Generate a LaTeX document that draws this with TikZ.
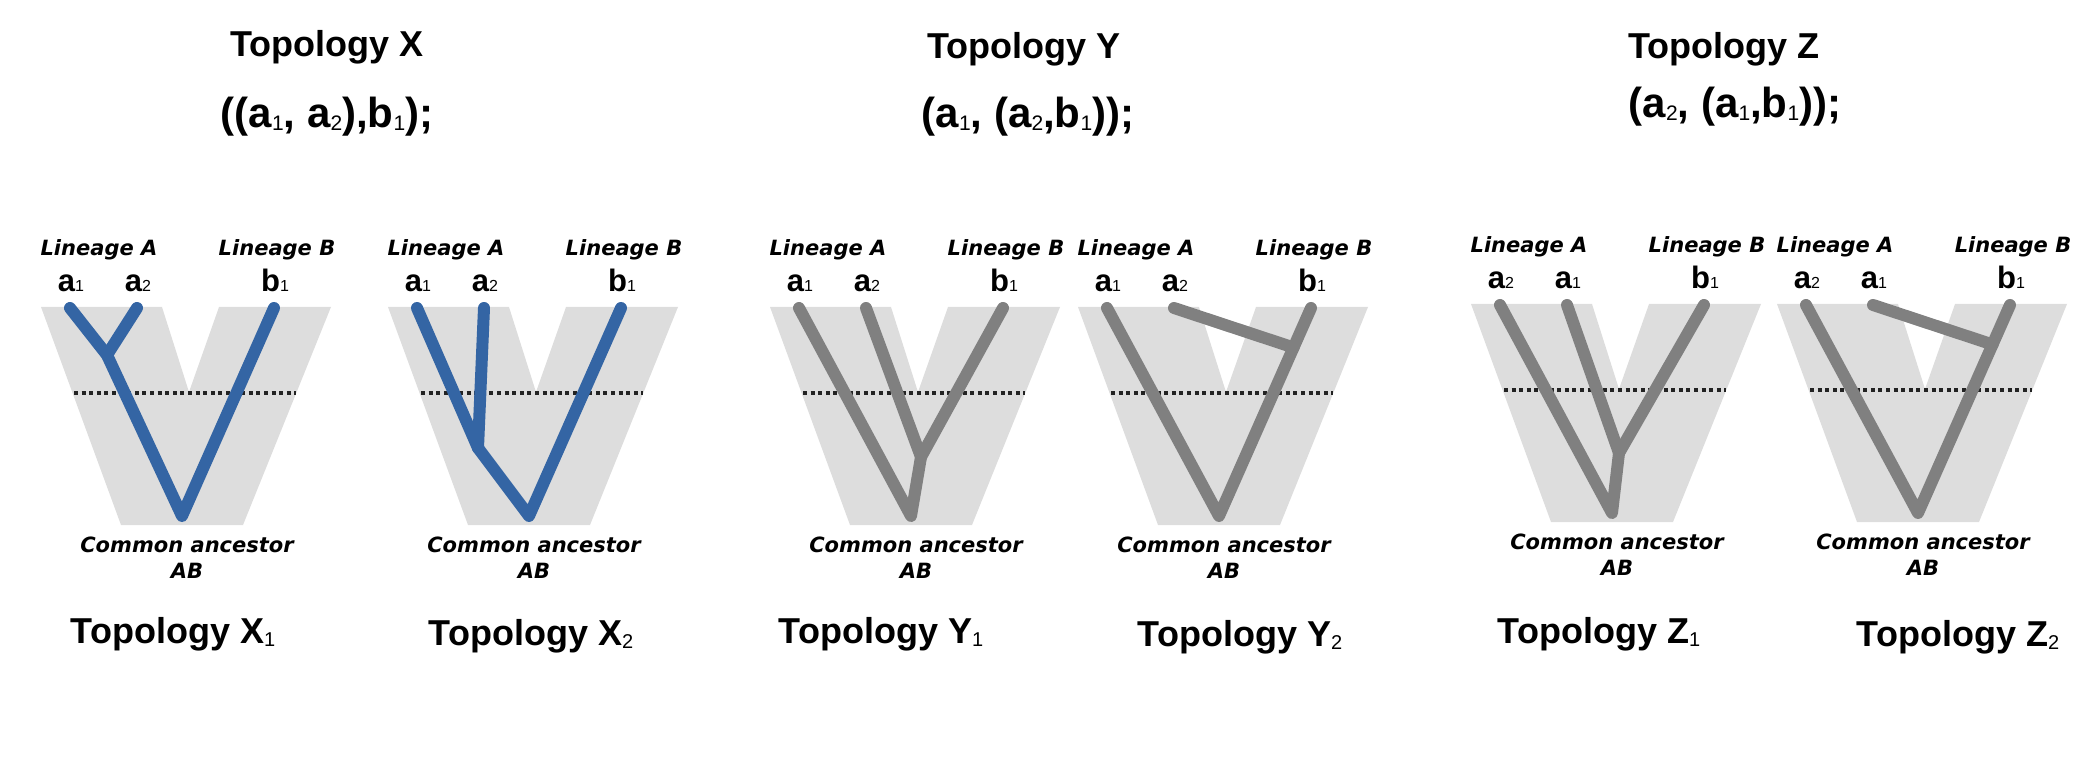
\documentclass[tikz,border=0pt]{standalone}
\usepackage{fontspec}
\setmainfont{Liberation Sans}
\newfontfamily\lblfont{DejaVu Sans}
\usetikzlibrary{calc}
\definecolor{TreeBlue}{HTML}{3465A4}
\definecolor{TreeGray}{HTML}{808080}
\definecolor{ShadeGray}{HTML}{DDDDDD}
\definecolor{DotBlack}{HTML}{222222}
\newcommand{\leafsub}[1]{{\mdseries\fontsize{8}{8}\selectfont #1}}
\newcommand{\newicksub}[1]{\raisebox{-1.5pt}{\mdseries\fontsize{10.5}{10.5}\selectfont #1}}
\newcommand{\titlesub}[1]{\raisebox{-1.5pt}{\mdseries\fontsize{10}{10}\selectfont #1}}
\tikzset{
  vshape/.style={fill=ShadeGray},
  divide/.style={DotBlack,line width=2pt,dash pattern=on 2pt off 1.8pt},
  branchX/.style={TreeBlue,line width=6pt,line cap=round,line join=round},
  branchO/.style={TreeGray,line width=6pt,line cap=round,line join=round},
  lbl/.style={anchor=base,inner sep=0pt},
  toptitle/.style={lbl,font=\bfseries\fontsize{18}{20}\selectfont},
  newick/.style={lbl,font=\bfseries\fontsize{21}{24}\selectfont},
  subtitle/.style={lbl,font=\bfseries\fontsize{18}{20}\selectfont},
  lineage/.style={lbl,font=\lblfont\bfseries\itshape\fontsize{10.5}{12}\selectfont},
  leaf/.style={lbl,font=\bfseries\fontsize{15.5}{18}\selectfont},
}

\begin{document}
\begin{tikzpicture}[x=0.5pt,y=-0.5pt]
  \useasboundingbox (0,0) rectangle (2079,775);
  % titles
  \node[toptitle] (tx) at (327,57) {Topology X};
  \node[toptitle] (ty) at (1024,59) {Topology Y};
  \node[toptitle] (tz) at (1724,59) {Topology Z};
  \node[newick] (nx) at (327,128) {((a\newicksub{1}, a\newicksub{2}),b\newicksub{1});};
  \node[newick] (ny) at (1028,128) {(a\newicksub{1}, (a\newicksub{2},b\newicksub{1}));};
  \node[newick] (nz) at (1735,118) {(a\newicksub{2}, (a\newicksub{1},b\newicksub{1}));};
  % shaded V, labels and branch ends of each panel
  \foreach \px/\py/\la/\lb/\id in {41/307/1/2/x1,388/307/1/2/x2,770/307/1/2/y1,1078/307/1/2/y2,1471/304/2/1/z1,1777/304/2/1/z2} {
    \fill[vshape] (\px,\py) -- ++(121,0) -- ++(27,85) -- ++(30,-85) -- ++(112,0) -- ++(-88,218) -- ++(-122,0) -- cycle;
    \draw[divide] (\px+33,\py+86) -- (\px+255,\py+86);
    \node[lineage] (\id-la) at (\px+58,\py-51) {Lineage A};
    \node[lineage] (\id-lb) at (\px+236,\py-51) {Lineage B};
    \node[leaf] (\id-l1) at (\px+30,\py-15) {a\leafsub{\la}};
    \node[leaf] (\id-l2) at (\px+97,\py-15) {a\leafsub{\lb}};
    \node[leaf] (\id-l3) at (\px+234,\py-15) {b\leafsub{1}};
    \node[lineage] (\id-ca) at (\px+146,\py+245) {Common ancestor};
    \node[lineage] (\id-ab) at (\px+146,\py+271) {AB};
    \coordinate (\id-t1) at (\px+29,\py+1);
    \coordinate (\id-t2) at (\px+96,\py+1);
    \coordinate (\id-t3) at (\px+233,\py+1);
    \coordinate (\id-r) at (\px+141,\py+209);
  }
  % topology X1
  \coordinate (x1-j) at (107,355);
  \draw[branchX] (x1-t1) -- (x1-j) -- (x1-r) -- (x1-t3);
  \draw[branchX] (x1-t2) -- (x1-j);
  % topology X2
  \coordinate (x2-j) at (478,448);
  \draw[branchX] (x2-t1) -- (x2-j) -- (x2-r) -- (x2-t3);
  \draw[branchX] (x2-t2) -- (x2-j);
  % topology Y1
  \coordinate (y1-j) at (921,457);
  \draw[branchO] (y1-t1) -- (y1-r) -- (y1-j) -- (y1-t3);
  \draw[branchO] (y1-t2) -- (y1-j);
  % topology Y2
  \coordinate (y2-j) at ($(y2-t3)!0.19!(y2-r)$);
  \draw[branchO] (y2-t1) -- (y2-r) -- (y2-t3);
  \draw[branchO] (y2-t2) -- (y2-j);
  % topology Z1
  \coordinate (z1-j) at (1619,453);
  \draw[branchO] (z1-t1) -- (z1-r) -- (z1-j) -- (z1-t3);
  \draw[branchO] (z1-t2) -- (z1-j);
  % topology Z2
  \coordinate (z2-j) at ($(z2-t3)!0.19!(z2-r)$);
  \draw[branchO] (z2-t1) -- (z2-r) -- (z2-t3);
  \draw[branchO] (z2-t2) -- (z2-j);
  % panel names
  \node[subtitle] (sx1) at (173,643) {Topology X\titlesub{1}};
  \node[subtitle] (sx2) at (531,645) {Topology X\titlesub{2}};
  \node[subtitle] (sy1) at (881,643) {Topology Y\titlesub{1}};
  \node[subtitle] (sy2) at (1240,646) {Topology Y\titlesub{2}};
  \node[subtitle] (sz1) at (1599,643) {Topology Z\titlesub{1}};
  \node[subtitle] (sz2) at (1958,646) {Topology Z\titlesub{2}};
\end{tikzpicture}
\end{document}
